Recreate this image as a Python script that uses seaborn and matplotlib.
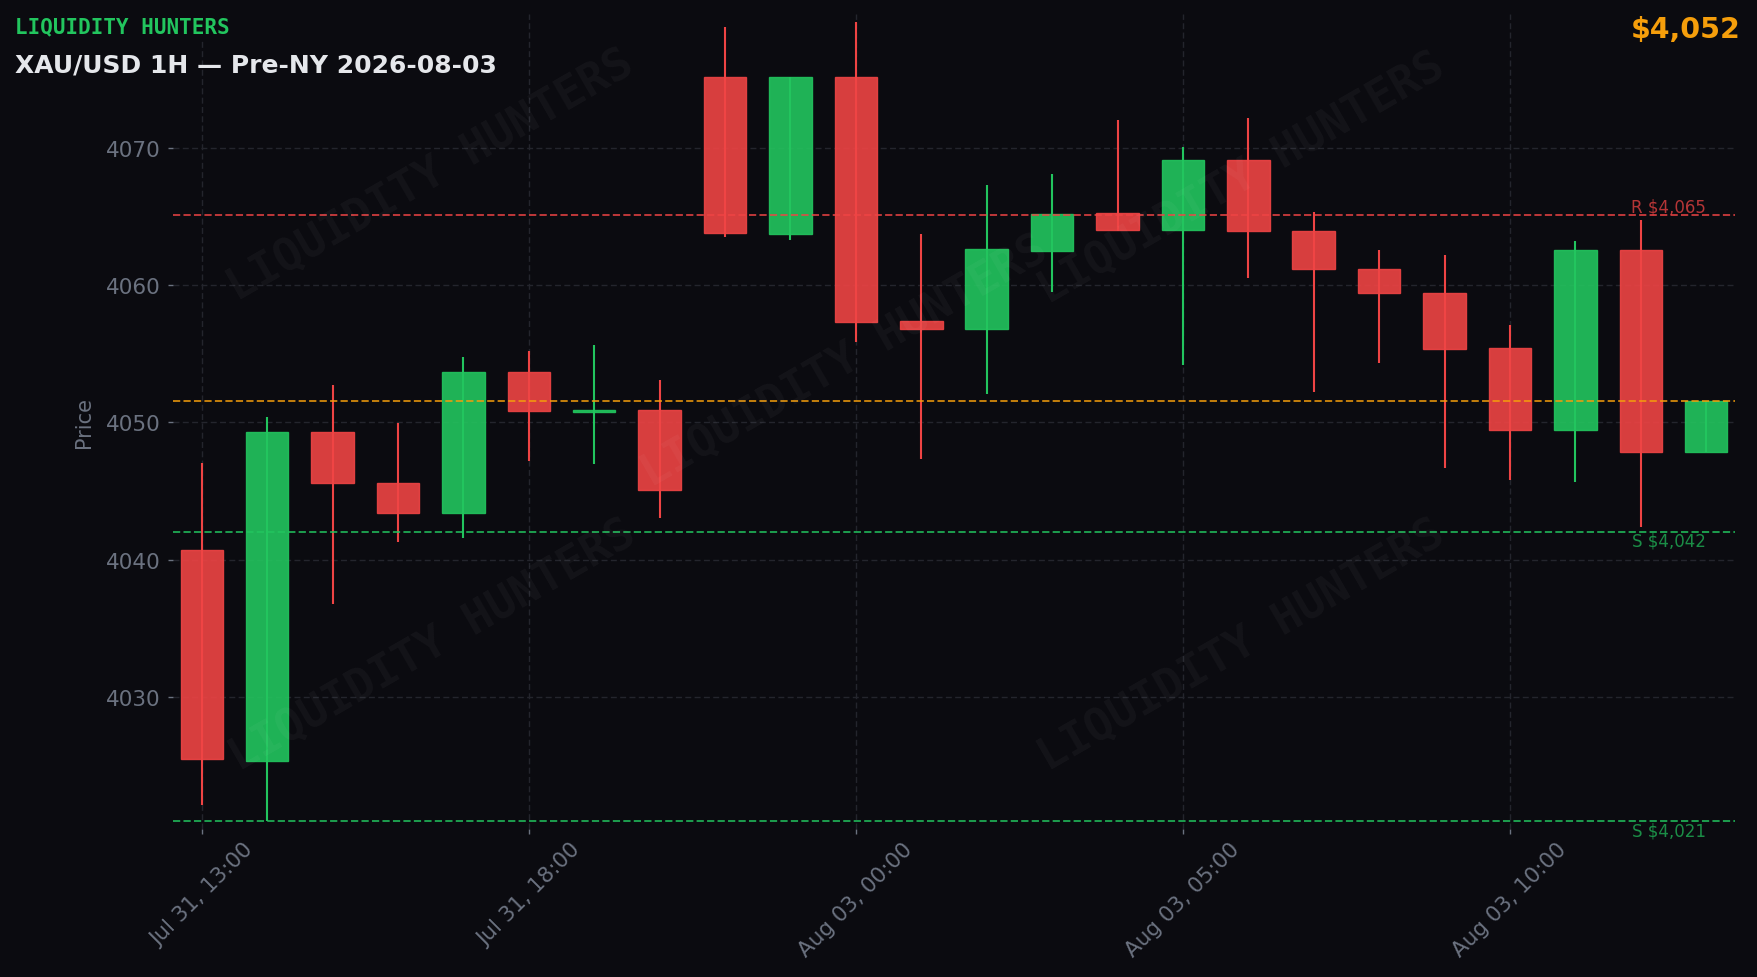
import numpy as np
import pandas as pd
import matplotlib
matplotlib.use("Agg")
import matplotlib.pyplot as plt
import seaborn as sns
from matplotlib.ticker import MultipleLocator, FixedLocator, FixedFormatter

# ---------------- data ----------------
times = (list(pd.date_range("2026-07-31 13:00", periods=10, freq="h")) +
         list(pd.date_range("2026-08-03 00:00", periods=14, freq="h")))
opens = [4040.72, 4025.37, 4049.32, 4045.58, 4043.38, 4053.68, 4050.78, 4050.91,
         4075.13, 4063.67, 4075.13, 4057.39, 4056.77, 4062.44, 4065.22, 4063.98,
         4069.07, 4063.94, 4061.13, 4059.43, 4055.38, 4049.40, 4062.52, 4047.82]
highs = [4047.01, 4050.37, 4052.72, 4049.94, 4054.76, 4055.19, 4055.61, 4053.07,
         4078.79, 4075.13, 4079.14, 4063.71, 4067.30, 4068.07, 4072.00, 4070.04,
         4072.16, 4065.33, 4062.56, 4062.17, 4057.08, 4063.21, 4064.72, 4051.55]
lows = [4022.13, 4020.97, 4036.79, 4041.30, 4041.61, 4047.20, 4046.93, 4043.00,
        4063.52, 4063.29, 4055.84, 4047.32, 4052.06, 4059.47, 4063.95, 4054.15,
        4060.51, 4052.18, 4054.34, 4046.70, 4045.81, 4045.62, 4042.34, 4047.82]
closes = [4025.45, 4049.32, 4045.58, 4043.38, 4053.68, 4050.79, 4050.86, 4045.08,
          4063.75, 4075.13, 4057.27, 4056.77, 4062.63, 4065.14, 4064.02, 4069.07,
          4063.91, 4061.13, 4059.39, 4055.34, 4049.40, 4062.52, 4047.82, 4051.55]
resistance_levels = [4065.06]
support_levels = [4042.03, 4020.97]
tick_every = 5
brand = "LIQUIDITY HUNTERS"
title = "XAU/USD 1H — Pre-NY 2026-08-03"

# ---------------- style ----------------
BG = "#0b0b10"
GRID = "#24252d"
MUTED = "#6b7280"
RED = "#ef4444"
GREEN = "#22c55e"
ORANGE = "#f59e0b"

sns.set_theme(style="dark", rc={
    "figure.facecolor": BG, "axes.facecolor": BG, "savefig.facecolor": BG,
    "axes.edgecolor": BG, "text.color": "#e5e7eb",
})
plt.rcParams["font.family"] = ["DejaVu Sans"]

df = pd.DataFrame({"time": times, "open": opens, "high": highs,
                   "low": lows, "close": closes})
df["idx"] = np.arange(len(df))
df["up"] = df["close"] >= df["open"]
df["body_lo"] = df[["open", "close"]].min(axis=1)
df["body_h"] = (df["close"] - df["open"]).abs()

fig = plt.figure(figsize=(17.58, 9.78), dpi=100)
ax = fig.add_axes([0.0984, 0.1513, 0.8885, 0.8334])
ax.set_facecolor(BG)

edge_cols = [GREEN if u else RED for u in df["up"]]

# wicks
ax.vlines(df["idx"], df["low"], df["high"], colors=edge_cols, linewidth=1.5, zorder=2)
# bodies
ax.bar(df["idx"], df["body_h"], bottom=df["body_lo"], width=0.65,
       color=edge_cols, alpha=0.9, edgecolor=edge_cols, linewidth=1.0, zorder=3)

n = len(df)
# level lines
for v in resistance_levels:
    ax.axhline(v, color=RED, alpha=0.85, linewidth=1.3, linestyle=(0, (4.0, 1.8)), zorder=4)
    ax.text(n - 1, v, f"R ${v:,.0f}", color=RED, alpha=0.75, fontsize=12,
            ha="right", va="bottom", zorder=5)
for v in support_levels:
    ax.axhline(v, color=GREEN, alpha=0.85, linewidth=1.3, linestyle=(0, (4.0, 1.8)), zorder=4)
    ax.text(n - 1, v, f"S ${v:,.0f}", color=GREEN, alpha=0.7, fontsize=12,
            ha="right", va="top", zorder=5)
last = df["close"].iloc[-1]
ax.axhline(last, color=ORANGE, alpha=0.85, linewidth=1.3, linestyle=(0, (4.0, 1.8)), zorder=4)

# axes limits
rng = df["high"].max() - df["low"].min()
ax.set_ylim(df["low"].min() - 0.01 * rng, df["high"].max() + 0.01 * rng)
ax.set_xlim(-0.44, n - 1 + 0.44)

ax.yaxis.set_major_locator(MultipleLocator(10))
tick_pos = list(range(0, n, tick_every))
ax.xaxis.set_major_locator(FixedLocator(tick_pos))
ax.xaxis.set_major_formatter(FixedFormatter(
    [df["time"].iloc[i].strftime("%b %d, %H:%M") for i in tick_pos]))
for lab in ax.get_xticklabels():
    lab.set_rotation(45)
    lab.set_ha("center")

ax.tick_params(axis="both", colors=MUTED, labelsize=15.5, length=3.6, width=1,
               labelcolor=MUTED, left=True, bottom=True)
ax.tick_params(axis="y", pad=5.5)
ax.grid(True, color=GRID, linestyle=(0, (4.3, 2.4)), linewidth=1)
ax.set_axisbelow(True)
ax.set_ylabel("Price", color=MUTED, fontsize=15, labelpad=8)
ax.set_xlabel("")
sns.despine(ax=ax, left=True, bottom=True)

# watermarks
for (wx, wy) in [(0.165, 0.803), (0.684, 0.799), (0.430, 0.575),
                 (0.166, 0.226), (0.684, 0.226)]:
    ax.text(wx, wy, brand, transform=ax.transAxes, family="DejaVu Sans Mono",
            weight="bold", fontsize=32.5, color="white", alpha=0.04, rotation=30,
            rotation_mode="anchor", ha="center", va="center", zorder=6)

# header texts
fig.text(0.0085, 1 - 33 / 978, brand, family="DejaVu Sans Mono", weight="bold",
         fontsize=15, color=GREEN, ha="left", va="baseline",
         bbox=dict(facecolor=BG, edgecolor="none", pad=2))
fig.text(0.0085, 1 - 73 / 978, title, weight="bold", fontsize=18,
         color="#e5e7eb", ha="left", va="baseline")
fig.text(0.990, 1 - 38 / 978, f"${last:,.0f}", weight="bold", fontsize=20.5,
         color=ORANGE, ha="right", va="baseline")

fig.savefig("out.png", dpi=100, facecolor=BG)
